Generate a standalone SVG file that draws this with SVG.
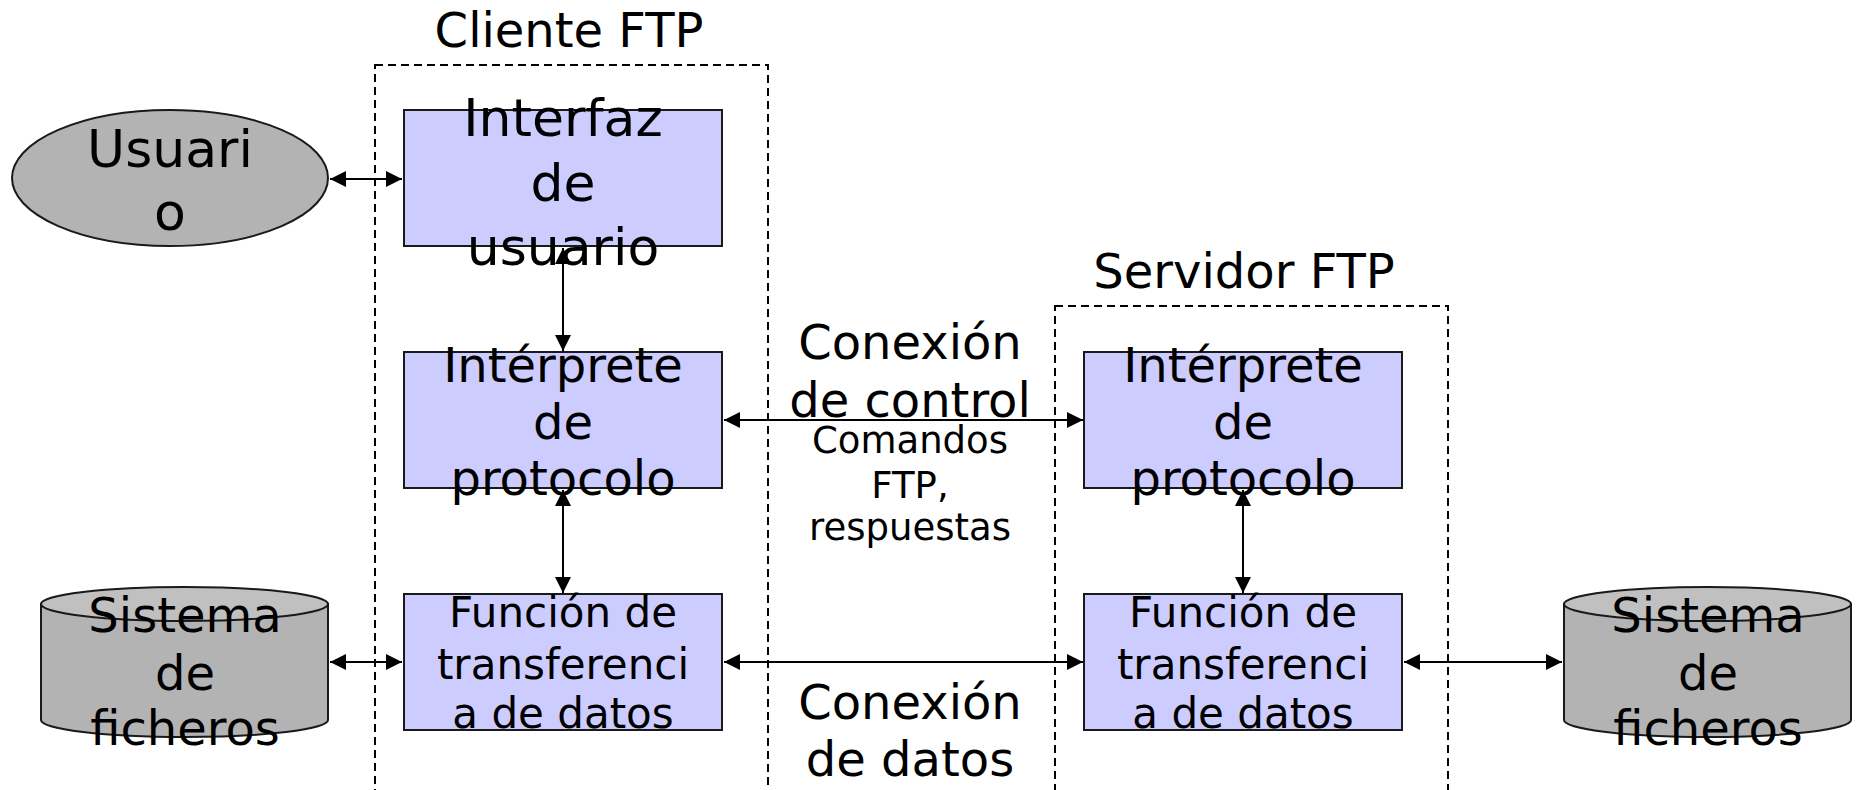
<svg xmlns="http://www.w3.org/2000/svg" width="1858" height="790" viewBox="0 0 1858 790">
<defs>
<style>
.box{fill:#ccccff;stroke:#1a1a1a;stroke-width:2}
.grey{fill:#b3b3b3;stroke:#1a1a1a;stroke-width:2}
.cyltop{fill:#c0c0c0;stroke:#1a1a1a;stroke-width:2}
.dash{fill:none;stroke:#000;stroke-width:2;stroke-dasharray:8 5}
.t{font-family:"DejaVu Sans","Liberation Sans",sans-serif;fill:#000;text-anchor:middle}
.t52{font-size:52px}
.t48{font-size:48px}
.t42{font-size:42px}
.t37{font-size:37px}
.c{stroke:#000;stroke-width:2;fill:none}
</style>
<marker id="ah" viewBox="0 0 10 10" refX="10" refY="5" markerWidth="8" markerHeight="8" markerUnits="userSpaceOnUse" orient="auto-start-reverse">
<path d="M0,0 L10,5 L0,10 Z" fill="#000"/>
</marker>
<marker id="a" viewBox="0 0 10 10" refX="10" refY="5" markerWidth="16" markerHeight="16" markerUnits="userSpaceOnUse" orient="auto-start-reverse">
<path d="M0,0 L10,5 L0,10 Z" fill="#000"/>
</marker>
</defs>

<g id="cliente-ftp">
<rect class="dash" x="375" y="65" width="393" height="740"/>
<text class="t t48" x="569" y="47">Cliente FTP</text>
</g>
<g id="servidor-ftp">
<rect class="dash" x="1055" y="306" width="393" height="500"/>
<text class="t t48" x="1244" y="288">Servidor FTP</text>
</g>

<g id="connectors">
<line class="c" x1="330" y1="179" x2="402" y2="179" marker-start="url(#a)" marker-end="url(#a)"/>
<line class="c" x1="563" y1="248" x2="563" y2="351" marker-start="url(#a)" marker-end="url(#a)"/>
<line class="c" x1="563" y1="490" x2="563" y2="593" marker-start="url(#a)" marker-end="url(#a)"/>
<line class="c" x1="724" y1="420" x2="1083" y2="420" marker-start="url(#a)" marker-end="url(#a)"/>
<line class="c" x1="724" y1="662" x2="1083" y2="662" marker-start="url(#a)" marker-end="url(#a)"/>
<line class="c" x1="1243" y1="490" x2="1243" y2="593" marker-start="url(#a)" marker-end="url(#a)"/>
<line class="c" x1="330" y1="662" x2="402" y2="662" marker-start="url(#a)" marker-end="url(#a)"/>
<line class="c" x1="1404" y1="662" x2="1562" y2="662" marker-start="url(#a)" marker-end="url(#a)"/>
</g>

<g id="usuario">
<ellipse class="grey" cx="170" cy="178" rx="158" ry="68"/>
<text class="t t52" x="170" y="167">Usuari</text>
<text class="t t52" x="170" y="230">o</text>
</g>

<g id="interfaz">
<rect class="box" x="404" y="110" width="318" height="136"/>
<text class="t t52" x="563" y="136">Interfaz</text>
<text class="t t52" x="563" y="201">de</text>
<text class="t t52" x="563" y="265">usuario</text>
</g>

<g id="interprete-cliente">
<rect class="box" x="404" y="352" width="318" height="136"/>
<text class="t t48" x="563" y="382">Intérprete</text>
<text class="t t48" x="563" y="439">de</text>
<text class="t t48" x="563" y="495">protocolo</text>
</g>

<g id="funcion-cliente">
<rect class="box" x="404" y="594" width="318" height="136"/>
<text class="t t42" x="563" y="627">Función de</text>
<text class="t t42" x="563" y="679">transferenci</text>
<text class="t t42" x="563" y="728">a de datos</text>
</g>

<g id="interprete-servidor">
<rect class="box" x="1084" y="352" width="318" height="136"/>
<text class="t t48" x="1243" y="382">Intérprete</text>
<text class="t t48" x="1243" y="439">de</text>
<text class="t t48" x="1243" y="495">protocolo</text>
</g>

<g id="funcion-servidor">
<rect class="box" x="1084" y="594" width="318" height="136"/>
<text class="t t42" x="1243" y="627">Función de</text>
<text class="t t42" x="1243" y="679">transferenci</text>
<text class="t t42" x="1243" y="728">a de datos</text>
</g>

<g id="sistema-cliente">
<path class="grey" d="M41,604 L41,720 A143.5,17 0 0 0 328,720 L328,604 Z"/>
<ellipse class="cyltop" cx="184.5" cy="604" rx="143.5" ry="17"/>
<text class="t t48" x="185" y="632">Sistema</text>
<text class="t t48" x="185" y="690">de</text>
<text class="t t48" x="185" y="745">ficheros</text>
</g>

<g id="sistema-servidor">
<path class="grey" d="M1564,604 L1564,720 A143.5,17 0 0 0 1851,720 L1851,604 Z"/>
<ellipse class="cyltop" cx="1707.5" cy="604" rx="143.5" ry="17"/>
<text class="t t48" x="1708" y="632">Sistema</text>
<text class="t t48" x="1708" y="690">de</text>
<text class="t t48" x="1708" y="745">ficheros</text>
</g>

<g id="conexion-control">
<text class="t t48" x="910" y="359">Conexión</text>
<text class="t t48" x="910" y="417">de control</text>
<text class="t t37" x="910" y="453">Comandos</text>
<text class="t t37" x="910" y="498">FTP,</text>
<text class="t t37" x="910" y="540">respuestas</text>
</g>

<g id="conexion-datos">
<text class="t t48" x="910" y="719">Conexión</text>
<text class="t t48" x="910" y="776">de datos</text>
</g>
</svg>
